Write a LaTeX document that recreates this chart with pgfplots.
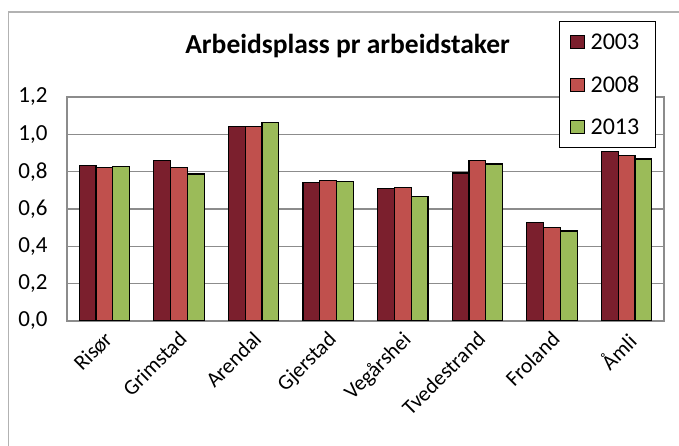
\documentclass[border=0pt]{standalone}
\usepackage{fontspec}
\setmainfont{Carlito}
\usepackage{pgfplots}
\pgfplotsset{compat=1.18}
\definecolor{c03}{HTML}{7B1F2D}
\definecolor{c08}{HTML}{C0504D}
\definecolor{c13}{HTML}{9BBB59}
\definecolor{gridgray}{HTML}{8C8C8C}

\begin{document}
\begin{tikzpicture}[x=1pt,y=1pt]
\useasboundingbox (0,0) rectangle (679,446);
% chart frame (only top and left visible)
\draw[gray!60, line width=1.3pt] (8.5,0) -- (8.5,434) -- (679,434);
\begin{axis}[
  at={(67pt,125pt)}, anchor=south west,
  scale only axis, width=597pt, height=224pt,
  ybar=0pt, bar width=16.8pt,
  xmin=-0.5, xmax=7.5, ymin=0, ymax=1.2,
  xtick={0,1,2,3,4,5,6,7},
  xticklabels={Risør,Grimstad,Arendal,Gjerstad,Vegårshei,Tvedestrand,Froland,Åmli},
  ytick={0,0.2,0.4,0.6,0.8,1.0,1.2},
  /pgf/number format/use comma, /pgf/number format/fixed,
  /pgf/number format/fixed zerofill, /pgf/number format/precision=1,
  /pgf/number format/assume math mode=true,
  yticklabel style={font=\fontsize{23}{27}\selectfont, xshift=-16pt},
  xticklabel style={font=\fontsize{21.5}{25}\selectfont, rotate=45, anchor=north east, xshift=-4pt, yshift=-2pt},
  major tick length=0pt,
  ymajorgrids, major grid style={gridgray, line width=1.2pt},
  axis line style={gridgray, line width=1.2pt},
  extra y ticks={1.2}, extra y tick labels={},
  extra y tick style={grid style={black, line width=1.3pt}},
  title={Arbeidsplass pr arbeidstaker},
  title style={at={(0.47,1.20)}, anchor=center, font=\fontsize{27.5}{32}\selectfont\bfseries},
  legend style={at={(0.824,1.339)}, anchor=north west, draw=black, line width=1.3pt,
    font=\fontsize{24}{28}\selectfont, row sep=21pt, inner xsep=10pt, inner ysep=10pt,
    nodes={inner xsep=6pt}},
  legend cell align=left,
]
\addplot[fill=c03, draw=black, line width=1.2pt,
  legend image code/.code={\draw[fill=c03,draw=black,line width=1pt] (0pt,-6.5pt) rectangle (14pt,6.5pt);}]
  coordinates {(0,0.832) (1,0.859) (2,1.041) (3,0.741) (4,0.709) (5,0.793) (6,0.527) (7,0.907)};
\addplot[fill=c08, draw=black, line width=1.2pt,
  legend image code/.code={\draw[fill=c08,draw=black,line width=1pt] (0pt,-6.5pt) rectangle (14pt,6.5pt);}]
  coordinates {(0,0.821) (1,0.823) (2,1.041) (3,0.752) (4,0.714) (5,0.861) (6,0.502) (7,0.888)};
\addplot[fill=c13, draw=black, line width=1.2pt,
  legend image code/.code={\draw[fill=c13,draw=black,line width=1pt] (0pt,-6.5pt) rectangle (14pt,6.5pt);}]
  coordinates {(0,0.829) (1,0.787) (2,1.062) (3,0.746) (4,0.668) (5,0.841) (6,0.482) (7,0.868)};
\legend{2003,2008,2013}
\end{axis}
\end{tikzpicture}
\end{document}
